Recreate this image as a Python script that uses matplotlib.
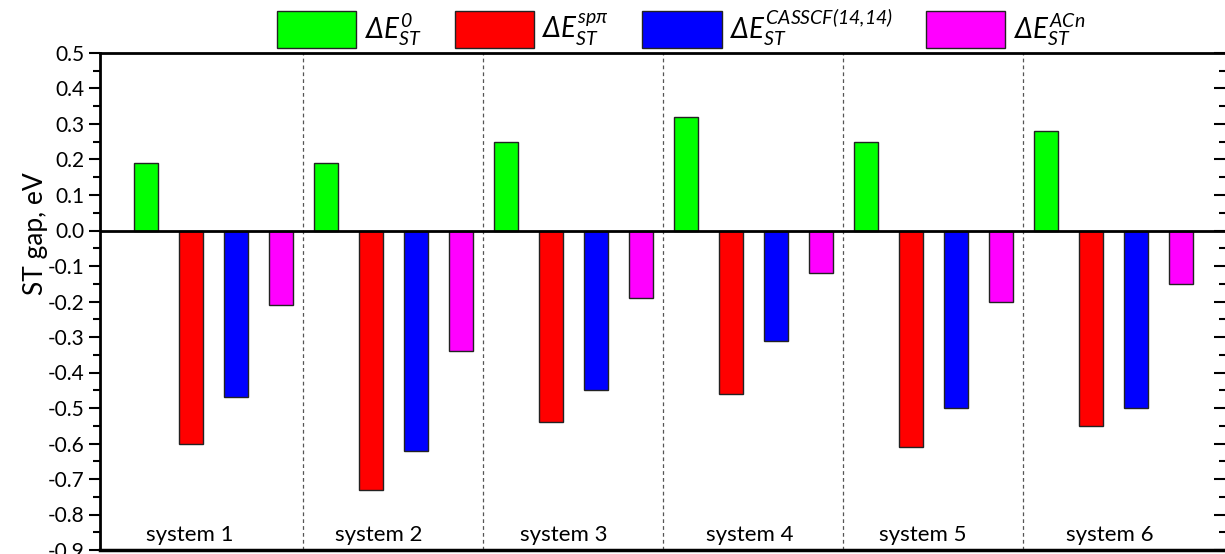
import matplotlib
matplotlib.use("Agg")
import matplotlib.pyplot as plt
import numpy as np
from matplotlib.ticker import MultipleLocator

plt.rcParams['font.family'] = ['Lato', 'DejaVu Sans']
plt.rcParams['mathtext.fontset'] = 'custom'
plt.rcParams['mathtext.rm'] = 'Lato:italic'
plt.rcParams['mathtext.it'] = 'Lato:italic'
plt.rcParams['mathtext.bf'] = 'Lato:bold:italic'

systems = ['system 1', 'system 2', 'system 3', 'system 4', 'system 5', 'system 6']
series_names = [r'$\Delta E_{ST}^{0}$',
                r'$\Delta E_{ST}^{sp\pi}$',
                r'$\Delta E_{ST}^{CASSCF(14{,}14)}$',
                r'$\Delta E_{ST}^{ACn}$']
gap_0 = [0.19, 0.19, 0.25, 0.32, 0.25, 0.28]
gap_sppi = [-0.60, -0.73, -0.54, -0.46, -0.61, -0.55]
gap_casscf = [-0.47, -0.62, -0.45, -0.31, -0.50, -0.50]
gap_acn = [-0.21, -0.34, -0.19, -0.12, -0.20, -0.15]
colors = ['#00ff00', '#ff0000', '#0000ff', '#ff00ff']

# label x shifts (fraction of a group), the labels are not exactly centred
label_shift = [-0.13, -0.08, -0.05, -0.02, -0.06, -0.02]

fig = plt.figure(figsize=(12.25, 5.54), dpi=100)
ax = fig.add_axes([100 / 1225, 4 / 554, 1.001 - 100 / 1225, 497 / 554])

x = np.arange(1, len(systems) + 1)
width = 0.133
offsets = [-0.375, -0.125, 0.125, 0.375]
handles = []
for vals, col, off, name in zip([gap_0, gap_sppi, gap_casscf, gap_acn],
                                colors, offsets, series_names):
    b = ax.bar(x + off, vals, width, color=col, edgecolor='#222222',
               linewidth=1.0, label=name, zorder=3)
    handles.append(b)

for sep in x[:-1] + 0.5:
    ax.axvline(sep, color='#555555', lw=0.9, ls=(0, (3, 2.5)), zorder=1)
ax.axhline(0, color='black', lw=2, zorder=4)

for xi, name, sh in zip(x, systems, label_shift):
    ax.text(xi + sh, -0.875, name, ha='center', va='baseline', fontsize=16)

ax.set_xlim(0.372, 6.628)
ax.set_ylim(-0.9, 0.5)
ax.set_xticks([])
ax.yaxis.set_major_locator(MultipleLocator(0.1))
ax.yaxis.set_minor_locator(MultipleLocator(0.05))
ax.yaxis.set_major_formatter(matplotlib.ticker.FormatStrFormatter('%.1f'))
ax.tick_params(axis='y', which='major', direction='out', length=8, width=1.5,
               labelsize=15, pad=3)
ax.tick_params(axis='y', which='minor', direction='out', length=5, width=1.5)
for s in ['left', 'top', 'right']:
    ax.spines[s].set_linewidth(2)
ax.spines['bottom'].set_linewidth(2.5)

# right side ticks point inwards
ax2 = ax.twinx()
ax2.set_ylim(ax.get_ylim())
ax2.yaxis.set_major_locator(MultipleLocator(0.1))
ax2.yaxis.set_minor_locator(MultipleLocator(0.05))
ax2.tick_params(axis='y', which='major', direction='in', length=9, width=1.5,
                labelright=False)
ax2.tick_params(axis='y', which='minor', direction='in', length=5, width=1.5)
ax2.set_xticks([])
for s in ax2.spines.values():
    s.set_visible(False)

ax.set_ylabel('ST gap, eV', fontsize=19)
ax.yaxis.set_label_coords(-0.046, 0.637)

fig.legend(handles=handles, loc='center', bbox_to_anchor=(0.556, 0.951),
           ncol=4, frameon=False, fontsize=20, handlelength=2.85,
           handleheight=1.7, handletextpad=0.3, columnspacing=1.2,
           borderpad=0, borderaxespad=0)

fig.savefig('out.png', dpi=100)
